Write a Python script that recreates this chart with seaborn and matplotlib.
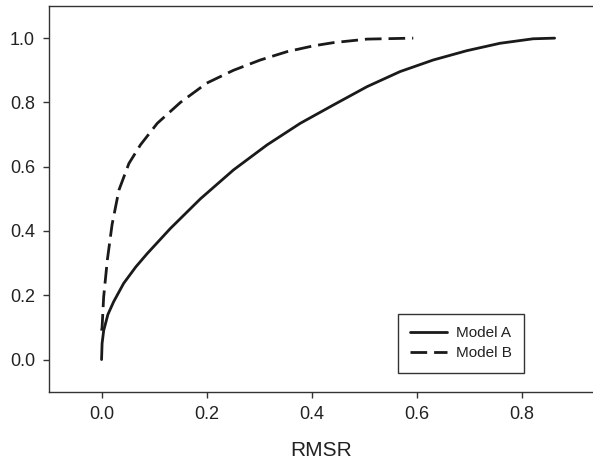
import matplotlib
matplotlib.use("Agg")
import matplotlib.pyplot as plt
import seaborn as sns
import pandas as pd

# Data
model_a_x = [0, 0.001, 0.004, 0.012, 0.023, 0.042, 0.065, 0.087, 0.131, 0.188,
             0.251, 0.315, 0.378, 0.441, 0.505, 0.568, 0.631, 0.695, 0.758,
             0.821, 0.862]
model_a_y = [0, 0.05, 0.09, 0.14, 0.18, 0.237, 0.288, 0.33, 0.408, 0.50,
             0.59, 0.668, 0.735, 0.792, 0.849, 0.896, 0.932, 0.961, 0.984,
             0.998, 1.0]
model_b_x = [0, 0.001, 0.004, 0.011, 0.02, 0.033, 0.052, 0.074, 0.106, 0.15,
             0.2, 0.251, 0.302, 0.353, 0.403, 0.441, 0.505, 0.593]
model_b_y = [0.09, 0.10, 0.195, 0.31, 0.42, 0.527, 0.61, 0.668, 0.735, 0.80,
             0.86, 0.90, 0.932, 0.958, 0.976, 0.986, 0.997, 1.0]
series_names = ["Model A", "Model B"]
x_ticks = [0.0, 0.2, 0.4, 0.6, 0.8]
y_ticks = [0.0, 0.2, 0.4, 0.6, 0.8, 1.0]
x_label = "RMSR"

df = pd.concat([
    pd.DataFrame({"x": model_a_x, "y": model_a_y, "model": series_names[0]}),
    pd.DataFrame({"x": model_b_x, "y": model_b_y, "model": series_names[1]}),
], ignore_index=True)

sns.set_style("white")
plt.rcParams["font.family"] = ["Liberation Sans", "DejaVu Sans"]

fig = plt.figure(figsize=(5.93, 4.63), dpi=100)
ax = fig.add_axes([49 / 593, 1 - 391.7 / 463, 1 - 49 / 593, (391.7 - 6) / 463])

sns.lineplot(data=df, x="x", y="y", style="model", hue="model",
             palette=["#1a1a1a", "#1a1a1a"],
             dashes={"Model A": "", "Model B": (6, 2.5)},
             sort=False, estimator=None, linewidth=2.0, ax=ax, legend=True)

ax.set_xlim(-0.1, 0.935)
ax.set_ylim(-0.1, 1.1)
ax.set_xticks(x_ticks)
ax.set_yticks(y_ticks)
ax.set_xticklabels([f"{v:.1f}" for v in x_ticks])
ax.set_yticklabels([f"{v:.1f}" for v in y_ticks])
ax.tick_params(axis="both", direction="out", length=4, width=1, color="#333333",
               labelsize=13, labelcolor="#222222", bottom=True, left=True, pad=6)
ax.set_xlabel(x_label, fontsize=15, color="#222222", labelpad=13)
ax.set_ylabel("")

for side in ["left", "top", "bottom"]:
    ax.spines[side].set_visible(True)
    ax.spines[side].set_color("#333333")
    ax.spines[side].set_linewidth(1.0)
ax.spines["right"].set_visible(False)

handles, labels = ax.get_legend_handles_labels()
leg = ax.legend(handles, labels, loc="upper left",
                bbox_to_anchor=(397.7 / 593, 1 - 314 / 463),
                bbox_transform=fig.transFigure,
                fontsize=11, frameon=True, fancybox=False, framealpha=1,
                edgecolor="#333333", handlelength=2.4, handletextpad=0.6,
                borderpad=0.8, labelspacing=0.4, borderaxespad=0)
leg.get_frame().set_linewidth(1.0)
for t in leg.get_texts():
    t.set_color("#222222")

fig.savefig("out.png", dpi=100)
